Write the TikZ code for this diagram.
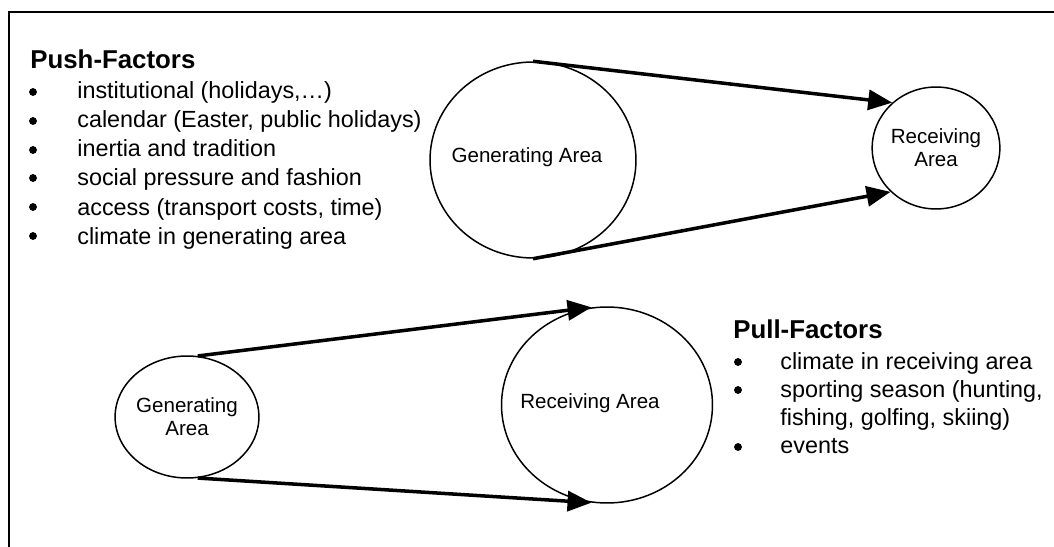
\documentclass[tikz,border=0pt]{standalone}
\usepackage{fontspec}
\setmainfont{Liberation Sans}
\usetikzlibrary{arrows.meta,shapes.geometric}

\tikzset{
  heading/.style={anchor=base west, inner sep=0pt, font=\fontsize{14.7}{17}\selectfont\bfseries},
  item/.style={anchor=base west, inner sep=0pt, font=\fontsize{13.3}{16}\selectfont},
  area/.style={draw, ellipse, line width=0.85pt, inner sep=0pt},
  areatext/.style={align=center, inner sep=0pt, font=\fontsize{11.7}{13.1}\selectfont},
  flow/.style={line width=2pt, -{Triangle[length=0.48cm,width=0.4cm]}},
}

\begin{document}
\begin{tikzpicture}[x=0.02cm, y=-0.02cm]
            \useasboundingbox (0,0) rectangle (1054,547);
            \draw[line width=1.1pt] (1054,12) -- (9,12) -- (9,547);

            % push side
            \node[heading] (push) at (30,69) {Push-Factors};
            \node[item] (push1) at (77,99) {institutional (holidays,…)};
            \node[item] (push2) at (77,128) {calendar (Easter, public holidays)};
            \node[item] (push3) at (77,157) {inertia and tradition};
            \node[item] (push4) at (77,186) {social pressure and fashion};
            \node[item] (push5) at (77,215) {access (transport costs, time)};
            \node[item] (push6) at (77,244) {climate in generating area};
            \filldraw[black] (33,92) circle (2pt);
            \filldraw[black] (33,121) circle (2pt);
            \filldraw[black] (33,150) circle (2pt);
            \filldraw[black] (33,178) circle (2pt);
            \filldraw[black] (33,207) circle (2pt);
            \filldraw[black] (33,236) circle (2pt);

            % pull side
            \node[heading] (pull) at (733,338) {Pull-Factors};
            \node[item] (pull1) at (780,369) {climate in receiving area};
            \node[item] (pull2) at (780,397) {sporting season (hunting,};
            \node[item] (pull2b) at (780,425) {fishing, golfing, skiing)};
            \node[item] (pull3) at (780,453) {events};
            \filldraw[black] (738,362) circle (2pt);
            \filldraw[black] (738,390) circle (2pt);
            \filldraw[black] (738,447) circle (2pt);

            % areas
            \node[area, minimum width=4.12cm, minimum height=3.92cm] (gen1) at (533,160) {};
            \node[areatext, anchor=base] (gen1txt) at (527,163) {Generating Area};
            \node[area, minimum size=2.44cm, areatext, draw, inner sep=0pt] (recv1) at (936,148) {Receiving\\Area};

            \node[area, minimum size=2.44cm, areatext, draw, inner sep=0pt] (gen2) at (187,417) {Generating\\Area};
            \node[area, minimum width=4.22cm, minimum height=3.92cm] (recv2) at (607,405) {};
            \node[areatext, anchor=base] (recv2txt) at (590,408) {Receiving Area};

            \draw[flow] (gen1.north) -- (recv1.134);
            \draw[flow] (gen1.south) -- (recv1.-136);
            \draw[flow] (gen2.80) -- (recv2.99);
            \draw[flow] (gen2.-80) -- (recv2.-99);
\end{tikzpicture}
\end{document}
